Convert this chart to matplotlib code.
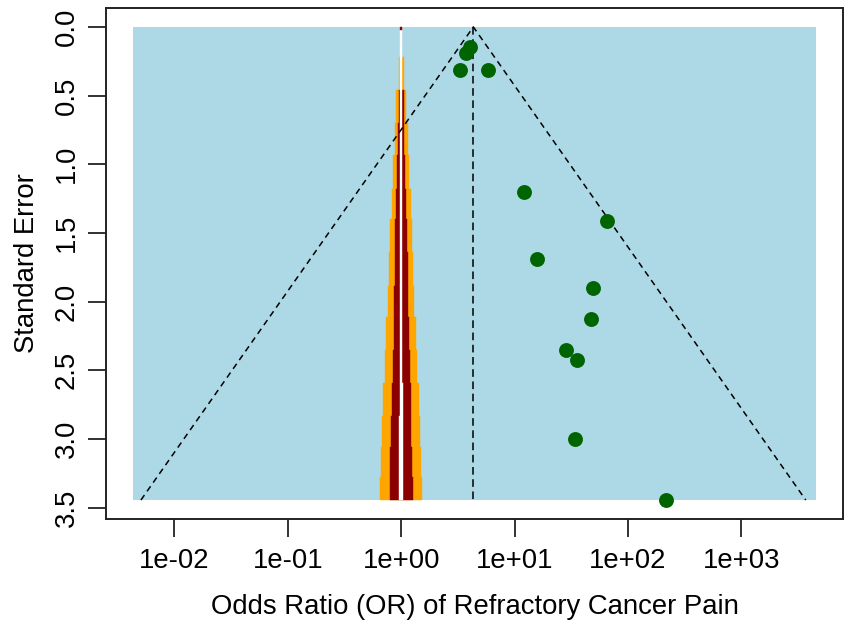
import numpy as np
import matplotlib
matplotlib.use("Agg")
import matplotlib.pyplot as plt

plt.rcParams['font.family'] = ['Liberation Sans', 'DejaVu Sans']

# ---- study data (log odds ratios and standard errors) ----
yi = [1.405, 1.324, 1.202, 1.764, 2.50, 4.18, 2.765, 3.888, 3.862, 3.354, 3.563, 3.537, 5.37]
sei = [0.149, 0.193, 0.315, 0.315, 1.203, 1.413, 1.689, 1.903, 2.125, 2.35, 2.425, 2.999, 3.445]

# pooled estimate (log OR)
summary_est = 1.466

# contour regions around OR = 1 (step boundaries in SE, half-widths in log units)
contour_se = [0, 0.22, 0.46, 0.70, 0.935, 1.18, 1.40, 1.64, 1.885, 2.11, 2.35, 2.595, 2.83, 3.06, 3.28]
orange_hw = [0, 0.05, 0.10, 0.13, 0.16, 0.19, 0.22, 0.25, 0.27, 0.30, 0.33, 0.36, 0.39, 0.41, 0.43]
darkred_hw = [0, 0, 0.05, 0.065, 0.08, 0.10, 0.115, 0.13, 0.14, 0.155, 0.17, 0.19, 0.205, 0.22, 0.235]
white_hw = [0.014, 0.014, 0.015, 0.015, 0.016, 0.016, 0.017, 0.017, 0.018, 0.018, 0.022, 0.03, 0.034, 0.036, 0.04]

xtick_or = [1e-2, 1e-1, 1e0, 1e1, 1e2, 1e3]
xtick_labels = ["1e-02", "1e-01", "1e+00", "1e+01", "1e+02", "1e+03"]
ytick_vals = [0.0, 0.5, 1.0, 1.5, 2.0, 2.5, 3.0, 3.5]

x_data_lim = (-5.44, 8.42)

fig = plt.figure(figsize=(8.51, 6.30), dpi=100)
ax = fig.add_axes([0.1246, 0.1762, 0.866, 0.8111])

se_max = max(sei)
xr = x_data_lim[1] - x_data_lim[0]
ax.set_xlim(x_data_lim[0] - 0.04 * xr, x_data_lim[1] + 0.04 * xr)
ax.set_ylim(se_max + 0.04 * se_max, -0.04 * se_max)

# background
ax.fill_between([x_data_lim[0], x_data_lim[1]], 0, se_max, color="#ADD8E6", lw=0, zorder=0)

# contour step regions drawn as stacked horizontal blocks
starts = np.array(contour_se)
heights = np.diff(list(contour_se) + [se_max])
for hw, col, zo in [(orange_hw, "#FFA500", 1.0), (darkred_hw, "#8B0000", 1.1), (white_hw, "#FFFFFF", 1.2)]:
    h = np.array(hw)
    ax.barh(starts, 2 * h, left=-h, height=heights, align="edge",
            color=col, edgecolor=col, linewidth=0.3, zorder=zo)
# small dark red mark at the top of the contour
ax.barh([0], [0.03], left=[-0.015], height=[0.025], align="edge",
        color="#8B0000", edgecolor="#8B0000", linewidth=0.3, zorder=1.3)

# funnel lines
z = 1.96
ax.plot([summary_est - z * se_max, summary_est, summary_est + z * se_max],
        [se_max, 0, se_max], color="black", lw=1.1, dashes=(4, 3), zorder=2)
ax.plot([summary_est, summary_est], [0, se_max], color="black", lw=1.1, dashes=(5, 3), zorder=2)

# points
ax.scatter(yi, sei, s=115, color="#006400", zorder=3, linewidths=0)

ax.set_xticks(np.log(xtick_or))
ax.set_xticklabels(xtick_labels)
ax.set_yticks(ytick_vals)
ax.set_yticklabels([f"{v:.1f}" for v in ytick_vals], rotation=90, va="center")

ax.tick_params(axis="both", length=13, width=1.3, labelsize=19.8, color="#222222")
ax.tick_params(axis="x", pad=8)
ax.tick_params(axis="y", pad=6)
for s in ax.spines.values():
    s.set_linewidth(1.4)
    s.set_color("#222222")

ax.set_xlabel("Odds Ratio (OR) of Refractory Cancer Pain", fontsize=19.8, labelpad=14)
ax.set_ylabel("Standard Error", fontsize=19.8, labelpad=10)

fig.savefig("out.png", dpi=100)
